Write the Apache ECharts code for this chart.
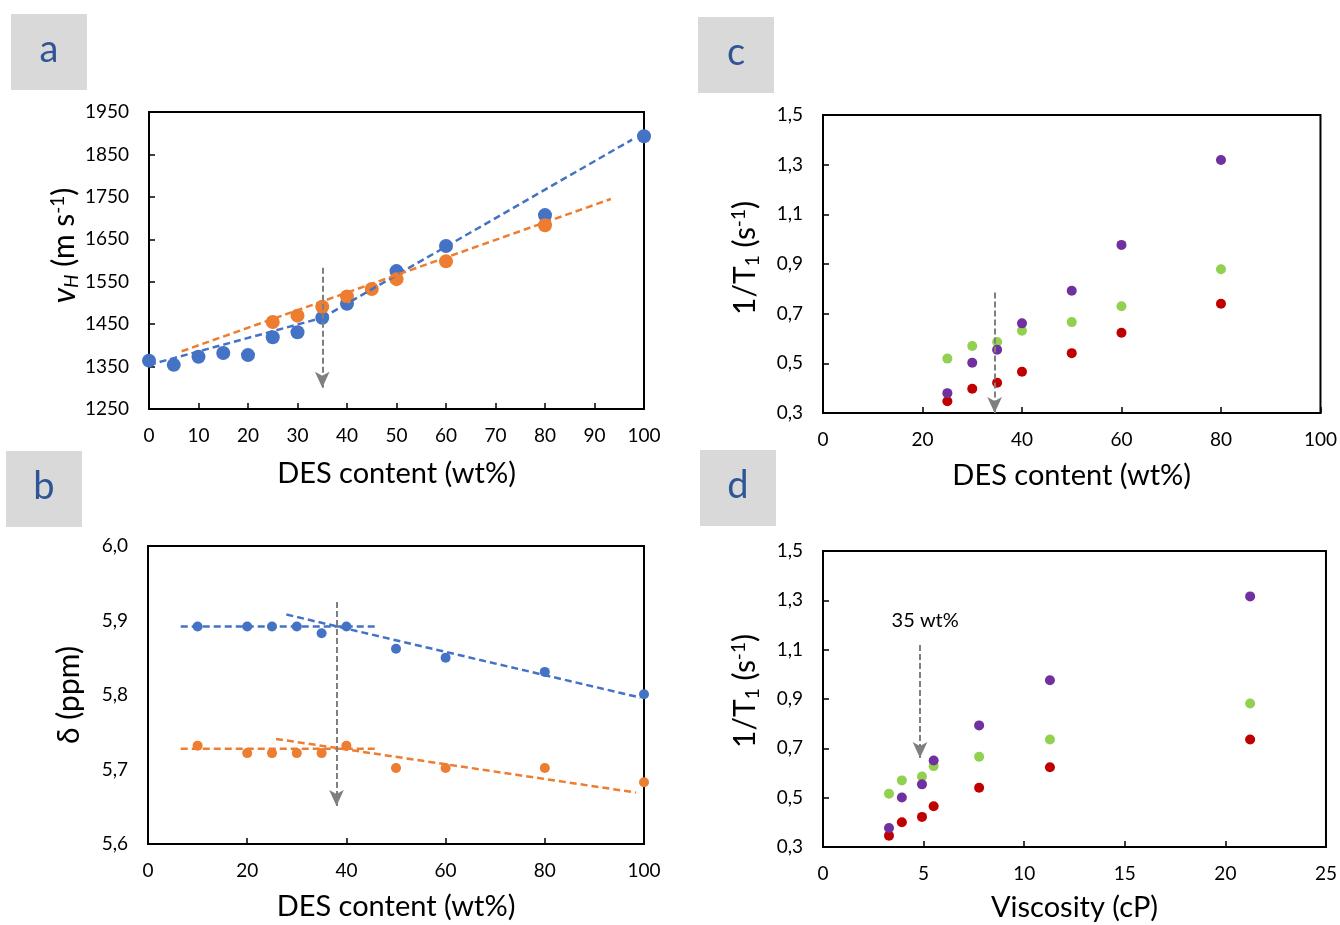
<!DOCTYPE html>
<html>
<head>
<meta charset="utf-8">
<script src="https://cdn.jsdelivr.net/npm/echarts@6/dist/echarts.min.js"></script>
<style>
html,body{margin:0;padding:0;background:#fff;}
#chart{width:1340px;height:925px;}
</style>
</head>
<body>
<div id="chart"></div>
<script>
// ---------- Panel a: sound velocity vs DES content ----------
const aXBlue = [0, 5, 10, 15, 20, 25, 30, 35, 40, 50, 60, 80, 100];
const aYBlue = [1364, 1354, 1373, 1382, 1377, 1419, 1431, 1465, 1498, 1575, 1634, 1707, 1893];
const aXOrange = [25, 30, 35, 40, 45, 50, 60, 80];
const aYOrange = [1455, 1470, 1491, 1515, 1533, 1556, 1598, 1683];
const aFitBlue1 = [[0, 1354], [35, 1465]];
const aFitBlue2 = [[35, 1465], [97.6, 1885]];
const aFitOrange = [[6.6, 1386], [93.3, 1745]];
const aArrow = [[35, 1583], [35, 1300]];

// ---------- Panel b: chemical shift vs DES content ----------
const bX = [10, 20, 25, 30, 35, 40, 50, 60, 80, 100];
const bYBlue = [5.892, 5.892, 5.892, 5.892, 5.883, 5.892, 5.862, 5.850, 5.831, 5.801];
const bYOrange = [5.732, 5.722, 5.722, 5.722, 5.722, 5.732, 5.702, 5.702, 5.702, 5.683];
const bFitBlueFlat = [[6.6, 5.892], [46.3, 5.892]];
const bFitBlueSlope = [[27.9, 5.908], [99.3, 5.7965]];
const bFitOrangeFlat = [[6.6, 5.728], [46.3, 5.728]];
const bFitOrangeSlope = [[25.8, 5.741], [98.4, 5.669]];
const bArrow = [[38, 5.925], [38, 5.651]];

// ---------- Panel c: 1/T1 vs DES content ----------
const cX = [25, 30, 35, 40, 50, 60, 80];
const cPurple = [0.380, 0.502, 0.555, 0.661, 0.792, 0.977, 1.319];
const cGreen = [0.519, 0.570, 0.586, 0.631, 0.666, 0.730, 0.879];
const cRed = [0.347, 0.398, 0.422, 0.466, 0.541, 0.623, 0.740];
const cArrow = [[34.5, 0.785], [34.5, 0.3]];

// ---------- Panel d: 1/T1 vs viscosity ----------
const dX = [3.28, 3.92, 4.92, 5.50, 7.76, 11.28, 21.23];
const dPurple = [0.377, 0.501, 0.554, 0.651, 0.793, 0.976, 1.316];
const dGreen = [0.516, 0.570, 0.586, 0.628, 0.666, 0.736, 0.882];
const dRed = [0.346, 0.400, 0.422, 0.465, 0.540, 0.623, 0.736];
const dArrow = [[4.82, 1.119], [4.82, 0.661]];
const dNote = [5.08, 1.22];
const dNoteText = '35 wt%';

// ---------- titles / labels ----------
const panelLetters = ['a', 'b', 'c', 'd'];
const xTitleDES = 'DES content (wt%)';
const xTitleVisc = 'Viscosity (cP)';

const BLUE = '#4472C4', ORANGE = '#ED7D31', PURPLE = '#7030A0', GREEN = '#92D050', RED = '#C00000', GRAY = '#7F7F7F';
const FONT = 'Lato, "Open Sans", sans-serif';

const zip = (xs, ys) => xs.map((x, i) => [x, ys[i]]);
const comma = v => v.toFixed(1).replace('.', ',');

function xAxisDef(grid, min, max, interval, name, gap) {
  return {
    type: 'value', gridIndex: grid, min, max, interval,
    name, nameLocation: 'middle', nameGap: gap,
    nameTextStyle: { fontFamily: FONT, fontSize: 29, color: '#000' },
    axisLine: { show: true, onZero: false, lineStyle: { color: '#000', width: 2 } },
    axisTick: { show: true, inside: true, length: 6, lineStyle: { color: '#000', width: 1.5 } },
    axisLabel: { fontFamily: FONT, fontSize: 19, color: '#000', margin: 17 },
    splitLine: { show: false }
  };
}
function yAxisDef(grid, min, max, interval, name, gap, fmt, showTick, rich, shift) {
  return {
    type: 'value', gridIndex: grid, min, max, interval,
    name, nameLocation: 'middle', nameGap: gap, nameRotate: 90,
    nameTextStyle: { fontFamily: FONT, fontSize: 30, color: '#000', rich: rich || {}, padding: [0, 0, 0, shift || 0] },
    axisLine: { show: true, onZero: false, lineStyle: { color: '#000', width: 2 } },
    axisTick: { show: showTick, inside: true, length: 6, lineStyle: { color: '#000', width: 1.5 } },
    axisLabel: { fontFamily: FONT, fontSize: 19, color: '#000', margin: 20, formatter: fmt },
    splitLine: { show: false }
  };
}
function scatter(grid, data, color, size) {
  return { type: 'scatter', xAxisIndex: grid, yAxisIndex: grid, data, symbolSize: size,
    itemStyle: { color, opacity: 1 }, silent: true, z: 3 };
}
function fit(grid, data, color) {
  return { type: 'line', xAxisIndex: grid, yAxisIndex: grid, data, symbol: 'none',
    lineStyle: { color, width: 2.5, type: [7, 4] }, silent: true, z: 4 };
}
function arrow(grid, pts) {
  return { type: 'scatter', xAxisIndex: grid, yAxisIndex: grid, data: [], silent: true,
    markLine: { silent: true, symbol: ['none', 'arrow'], symbolSize: [11, 16],
      label: { show: false },
      lineStyle: { color: GRAY, width: 2, type: [6, 3] },
      data: [[{ coord: pts[0] }, { coord: pts[1] }]] }, z: 5 };
}

const supSub = {
  sup: { fontFamily: FONT, fontSize: 19, color: '#000', verticalAlign: 'top', padding: [0, 0, 14, 0] },
  sub: { fontFamily: FONT, fontSize: 19, color: '#000', verticalAlign: 'bottom', padding: [14, 0, 0, 0] },
  subi: { fontFamily: FONT, fontSize: 19, fontStyle: 'italic', color: '#000', verticalAlign: 'bottom', padding: [14, 0, 0, 0] },
  it: { fontFamily: FONT, fontSize: 32, fontStyle: 'italic', color: '#000' },
  n: { fontFamily: FONT, fontSize: 30, color: '#000' }
};

function letterBox(letter, x, y) {
  return {
    type: 'group', left: x, top: y,
    children: [
      { type: 'rect', shape: { x: 0, y: 0, width: 76, height: 76 }, style: { fill: '#D9D9D9' } },
      { type: 'text', x: 38, y: 36, style: { text: letter, fill: '#2F5597', font: '38px ' + FONT, textAlign: 'center', textVerticalAlign: 'middle' } }
    ]
  };
}

const chart = echarts.init(document.getElementById('chart'), null, { renderer: 'canvas' });
chart.setOption({
  animation: false,
  backgroundColor: '#fff',
  grid: [
    { left: 149, top: 112, width: 495, height: 297, show: true, borderColor: '#000', borderWidth: 2, backgroundColor: 'transparent' },
    { left: 148, top: 546, width: 496, height: 298, show: true, borderColor: '#000', borderWidth: 2, backgroundColor: 'transparent' },
    { left: 823, top: 115, width: 498, height: 298, show: true, borderColor: '#000', borderWidth: 2, backgroundColor: 'transparent' },
    { left: 823, top: 551, width: 504, height: 296, show: true, borderColor: '#000', borderWidth: 2, backgroundColor: 'transparent' }
  ],
  xAxis: [
    xAxisDef(0, 0, 100, 10, xTitleDES, 50),
    xAxisDef(1, 0, 100, 20, xTitleDES, 48),
    xAxisDef(2, 0, 100, 20, xTitleDES, 48),
    xAxisDef(3, 0, 25, 5, xTitleVisc, 46)
  ],
  yAxis: [
    yAxisDef(0, 1250, 1950, 100, '{it|v}{subi|H}{n| (m s}{sup|-1}{n|)}', 66, v => String(v), true, supSub, 30),
    yAxisDef(1, 5.6, 6.0, 0.1, 'δ (ppm)', 64, comma, false, null, 0),
    yAxisDef(2, 0.3, 1.5, 0.2, '{n|1/T}{sub|1}{n| (s}{sup|-1}{n|)}', 61, comma, true, supSub, 12),
    yAxisDef(3, 0.3, 1.5, 0.2, '{n|1/T}{sub|1}{n| (s}{sup|-1}{n|)}', 61, comma, true, supSub, 16)
  ],
  series: [
    // panel a
    scatter(0, zip(aXBlue, aYBlue), BLUE, 14),
    scatter(0, zip(aXOrange, aYOrange), ORANGE, 14),
    fit(0, aFitBlue1, BLUE),
    fit(0, aFitBlue2, BLUE),
    fit(0, aFitOrange, ORANGE),
    arrow(0, aArrow),
    // panel b
    scatter(1, zip(bX, bYBlue), BLUE, 10),
    scatter(1, zip(bX, bYOrange), ORANGE, 10),
    fit(1, bFitBlueFlat, BLUE),
    fit(1, bFitBlueSlope, BLUE),
    fit(1, bFitOrangeFlat, ORANGE),
    fit(1, bFitOrangeSlope, ORANGE),
    arrow(1, bArrow),
    // panel c
    scatter(2, zip(cX, cRed), RED, 10),
    scatter(2, zip(cX, cGreen), GREEN, 10),
    scatter(2, zip(cX, cPurple), PURPLE, 10),
    arrow(2, cArrow),
    // panel d
    scatter(3, zip(dX, dRed), RED, 10),
    scatter(3, zip(dX, dGreen), GREEN, 10),
    scatter(3, zip(dX, dPurple), PURPLE, 10),
    arrow(3, dArrow),
    { type: 'scatter', xAxisIndex: 3, yAxisIndex: 3, data: [dNote], symbolSize: 1, silent: true,
      itemStyle: { color: 'rgba(0,0,0,0)', opacity: 1 },
      label: { show: true, position: 'inside', formatter: dNoteText, fontFamily: FONT, fontSize: 20, color: '#000', opacity: 1 } }
  ],
  graphic: [
    letterBox(panelLetters[0], 11, 14),
    letterBox(panelLetters[1], 6, 451),
    letterBox(panelLetters[2], 698, 17),
    letterBox(panelLetters[3], 700, 450)
  ]
});
</script>
</body>
</html>
